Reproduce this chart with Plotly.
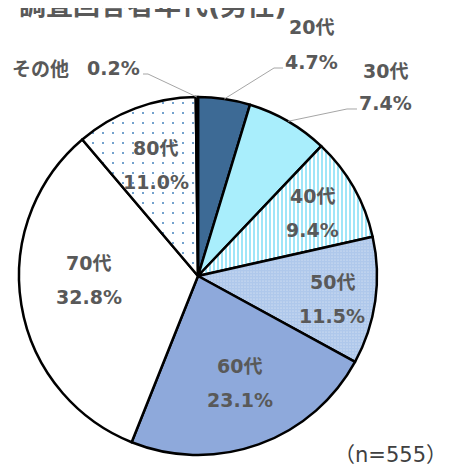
import numpy as np
import plotly.graph_objects as go

# ---- data ----
categories = ["20代", "30代", "40代", "50代", "60代", "70代", "80代", "その他"]
values = [4.7, 7.4, 9.4, 11.5, 23.1, 32.8, 11.0, 0.2]
pct_labels = ["4.7%", "7.4%", "9.4%", "11.5%", "23.1%", "32.8%", "11.0%", "0.2%"]
title_text = "調査回答者年代(男性)"
note_text = "（n=555）"

# ---- styles ----
W, H = 449, 468
OFF = 8  # page body margin compensation
CX, CY, R = 198, 276, 179
FAM = "DejaVu Sans, Noto Sans CJK JP"
TXT = "#595959"

colors = ["#3D6A95", "#A9EEFC", "#FFFFFF", "#FFFFFF", "#8EA9DB", "#FFFFFF", "#FFFFFF", "#000000"]
p_shape = ["", "", "|", ".", "", "", ".", ""]
p_fg = ["#000000", "#000000", "#9FE6F8", "#AFC8EB", "#000000", "#000000", "#2E75B6", "#000000"]
p_size = [8, 8, 4, 3, 8, 8, 10, 8]
p_sol = [0.3, 0.3, 0.5, 0.85, 0.3, 0.3, 0.025, 0.3]


def px2paper(x, y):
    return (x - OFF) / W, 1 - (y - OFF) / H


dx0, dy1 = px2paper(CX - R, CY - R)
dx1, dy0 = px2paper(CX + R, CY + R)

fig = go.Figure(go.Pie(
    labels=categories, values=values, sort=False, direction="clockwise", rotation=0,
    textinfo="none", hoverinfo="skip",
    marker=dict(colors=colors, line=dict(color="black", width=2.5),
                pattern=dict(shape=p_shape, fgcolor=p_fg, size=p_size, solidity=p_sol)),
    domain=dict(x=[dx0, dx1], y=[dy0, dy1]),
))

# mid angles from data (degrees clockwise from 12 o'clock)
tot = sum(values)
cum = np.cumsum(values)
mid = [(c - v / 2) / tot * 360 for c, v in zip(cum, values)]

annots = []
shapes = []
font = dict(family=FAM, size=19, color=TXT, weight="bold")

# inside labels: (index, radius fraction, angle tweak)
inside = {2: (0.73, 0.8), 3: (0.76, 1.9), 4: (0.64, -1.5), 5: (0.61, 7.4), 6: (0.665, -0.4)}
GAP = 17
for i, (f, da) in inside.items():
    a = np.radians(mid[i] + da)
    x = CX + f * R * np.sin(a)
    y = CY - f * R * np.cos(a)
    for txt, dy in ((categories[i], -GAP), (pct_labels[i], GAP)):
        px, py = px2paper(x, y + dy)
        annots.append(dict(x=px, y=py, xref="paper", yref="paper", text=txt, showarrow=False,
                           font=font, xanchor="center", yanchor="middle"))

# outside labels: index -> (cat label pos, pct label pos, bend, end)
outside = {
    0: ((311, 27), (311, 62), (274, 68), (283, 68)),
    1: ((385, 71), (385, 103), (347, 109), (357, 109)),
    7: ((40, 69), (113, 68), (148, 74), (143, 74)),
}
for i, (cpos, ppos, bend, end) in outside.items():
    for txt, (x, y) in ((categories[i], cpos), (pct_labels[i], ppos)):
        px, py = px2paper(x, y)
        annots.append(dict(x=px, y=py, xref="paper", yref="paper", text=txt, showarrow=False,
                           font=font, xanchor="center", yanchor="middle"))
    a = np.radians(mid[i])
    sx = CX + R * np.sin(a)
    sy = CY - R * np.cos(a)
    pts = [px2paper(sx, sy), px2paper(*bend), px2paper(*end)]
    path = "M " + " L ".join(f"{p[0]:.5f},{p[1]:.5f}" for p in pts)
    shapes.append(dict(type="path", xref="paper", yref="paper", path=path,
                       line=dict(color="#A6A6A6", width=1)))

# title and note
tx, ty = px2paper(17, 5)
annots.append(dict(x=tx, y=ty, xref="paper", yref="paper", text=title_text, showarrow=False,
                   font=dict(family=FAM, size=27, color=TXT, weight="bold"),
                   xanchor="left", yanchor="middle"))
nx, ny = px2paper(449, 455)
annots.append(dict(x=nx, y=ny, xref="paper", yref="paper", text=note_text, showarrow=False,
                   font=dict(family=FAM, size=21, color="#404040"),
                   xanchor="right", yanchor="middle"))

fig.update_layout(width=W, height=H, margin=dict(l=0, r=0, t=0, b=0),
                  paper_bgcolor="white", plot_bgcolor="white", showlegend=False,
                  annotations=annots, shapes=shapes)
fig.write_html("out.html")
